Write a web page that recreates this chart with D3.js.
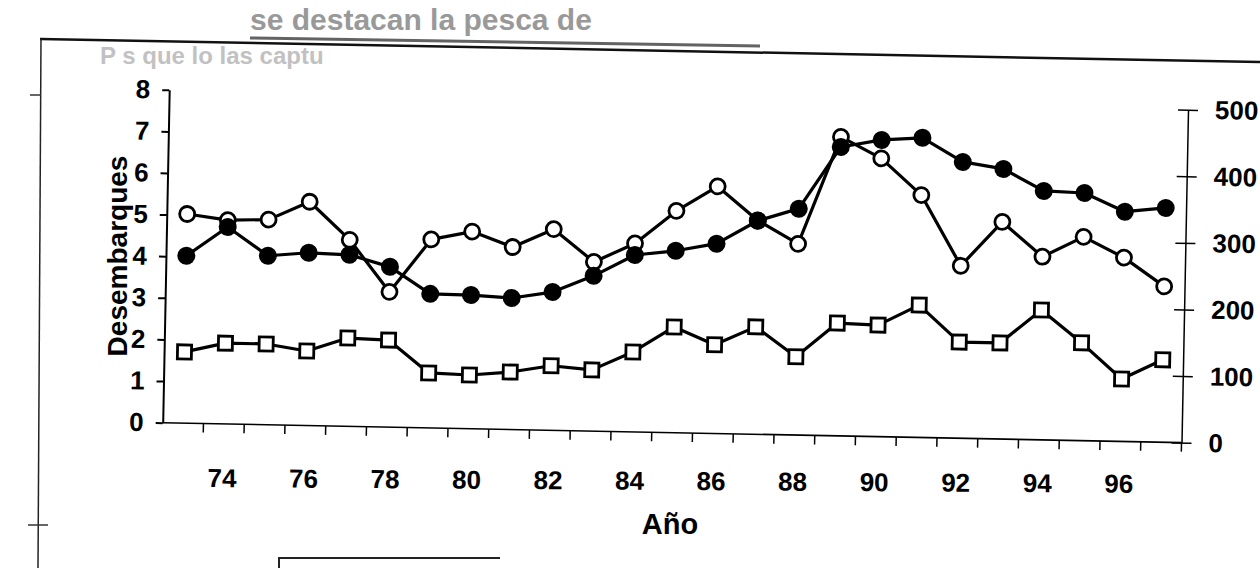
<!DOCTYPE html>
<html><head><meta charset="utf-8">
<script src="https://cdn.jsdelivr.net/npm/d3@7"></script>
<style>
body{margin:0;background:#fff}
svg{display:block}
text{font-family:"Liberation Sans",Arial,sans-serif;font-weight:bold;fill:#000}
</style>
</head><body><svg id="c" width="1260" height="568"></svg>
<script>
// ---- data ----
const years = [73,74,75,76,77,78,79,80,81,82,83,84,85,86,87,88,89,90,91,92,93,94,95,96,97];
const yearLabels = [74,76,78,80,82,84,86,88,90,92,94,96];
const leftTicks = [0,1,2,3,4,5,6,7,8];
const rightTicks = [0,100,200,300,400,500];
// filled circles (left axis)
const filledSeries = [4.02,4.73,4.06,4.15,4.12,3.85,3.22,3.21,3.16,3.32,3.73,4.25,4.37,4.56,5.13,5.44,6.94,7.13,7.20,6.64,6.49,5.98,5.95,5.52,5.63];
// squares (left axis)
const squareSeries = [1.71,1.94,1.94,1.79,2.12,2.09,1.32,1.29,1.38,1.55,1.47,1.92,2.54,2.13,2.58,1.88,2.71,2.68,3.18,2.31,2.31,3.12,2.35,1.50,1.98];
// open circles (right axis)
const openSeries = [314,306,308,336,280,203,283,296,274,302,254,283,333,371,321,287,449,418,364,259,326,275,306,276,234];
const yTitle = "Desembarques";
const xTitle = "Año";

// ---- layout ----
const svg = d3.select("#c");
const ox = 162.7, oy = 422.7, W = 1019, H = 333, tilt = 1.12;

// scan artefacts of the page
const page = svg.append("g");
page.append("text").attr("x",250).attr("y",30).attr("font-size",30).style("fill","#777").attr("opacity",0.75).text("se destacan la pesca de");
page.append("text").attr("x",100).attr("y",64).attr("font-size",24).style("fill","#999").attr("opacity",0.6).text("P      s que lo      las captu");
page.append("line").attr("x1",40).attr("y1",39).attr("x2",1260).attr("y2",62).attr("stroke","#111").attr("stroke-width",2.5);
page.append("line").attr("x1",250).attr("y1",38).attr("x2",760).attr("y2",46).attr("stroke","#222").attr("stroke-width",3).attr("opacity",0.7);
page.append("line").attr("x1",41).attr("y1",39).attr("x2",38).attr("y2",568).attr("stroke","#222").attr("stroke-width",1.5);
page.append("line").attr("x1",30).attr("y1",95).attr("x2",41).attr("y2",95).attr("stroke","#333").attr("stroke-width",1.5);
page.append("line").attr("x1",28).attr("y1",525).attr("x2",48).attr("y2",525).attr("stroke","#333").attr("stroke-width",1.5);
page.append("path").attr("d","M279,568V558H500").attr("fill","none").attr("stroke","#222").attr("stroke-width",2);

const g = svg.append("g").attr("transform",`translate(${ox},${oy}) rotate(${tilt}) translate(0,${-H})`);

const x = d3.scaleBand().domain(years).range([0,W]);
const cx = d => x(d) + x.bandwidth()/2;
const yL = d3.scaleLinear().domain([0,8]).range([H,0]);
const yR = d3.scaleLinear().domain([0,500]).range([H,0]);

// left axis
const la = g.append("g").call(d3.axisLeft(yL).tickValues(leftTicks).tickSize(7).tickSizeOuter(0).tickPadding(12).tickFormat(d3.format("d")));
la.select(".domain").attr("stroke-width",2);
la.selectAll(".tick line").attr("stroke-width",2);
la.selectAll("text").attr("font-size",26).attr("font-family","Liberation Sans, Arial, sans-serif").attr("font-weight","bold");

// right axis
const ra = g.append("g").attr("transform",`translate(${W},0)`)
  .call(d3.axisRight(yR).tickValues(rightTicks).tickSizeInner(10).tickSizeOuter(0).tickPadding(17));
ra.select(".domain").attr("stroke-width",1.5);
ra.selectAll(".tick line").attr("x1",-10).attr("stroke-width",1.5);
ra.selectAll("text").attr("font-size",26).attr("font-family","Liberation Sans, Arial, sans-serif").attr("font-weight","bold");

// x baseline and boundary ticks
g.append("line").attr("x1",0).attr("x2",W).attr("y1",H).attr("y2",H).attr("stroke","#000").attr("stroke-width",1.6);
const bounds = years.slice(1).map(d => x(d)).concat([W]);
g.append("g").selectAll("line").data(bounds).join("line")
  .attr("x1",d=>d).attr("x2",d=>d).attr("y1",H).attr("y2",H+9).attr("stroke","#000").attr("stroke-width",1.5);

// x tick labels (slightly less tilted in the scan)
const xl = svg.append("g").attr("transform",`translate(${ox},${oy}) rotate(0.35)`)
  .call(d3.axisBottom(x).tickValues(yearLabels).tickSize(0).tickPadding(0).tickFormat(d=>String(d)));
xl.select(".domain").remove();
xl.selectAll("text").attr("x",-1.5).attr("y",55).attr("dy","0.35em").attr("font-size",26).attr("font-family","Liberation Sans, Arial, sans-serif").attr("font-weight","bold");

// titles
svg.append("text").attr("transform","translate(127,256) rotate(-90)").attr("text-anchor","middle").attr("font-size",28).text(yTitle);
svg.append("text").attr("x",670).attr("y",534).attr("text-anchor","middle").attr("font-size",29).text(xTitle);

// series
function drawLine(vals, yScale){
  const line = d3.line().x((d,i)=>cx(years[i])).y(d=>yScale(d));
  g.append("path").datum(vals).attr("d",line).attr("fill","none").attr("stroke","#000").attr("stroke-width",3.2).attr("stroke-linejoin","round");
}
// squares
drawLine(squareSeries, yL);
g.append("g").selectAll("rect").data(squareSeries).join("rect")
  .attr("x",(d,i)=>cx(years[i])-7).attr("y",d=>yL(d)-7).attr("width",14).attr("height",14)
  .attr("fill","#fff").attr("stroke","#000").attr("stroke-width",2.8);
// open circles
drawLine(openSeries, yR);
g.append("g").selectAll("circle").data(openSeries).join("circle")
  .attr("cx",(d,i)=>cx(years[i])).attr("cy",d=>yR(d)).attr("r",7.5)
  .attr("fill","#fff").attr("stroke","#000").attr("stroke-width",2.8);
// filled circles
drawLine(filledSeries, yL);
g.append("g").selectAll("circle").data(filledSeries).join("circle")
  .attr("cx",(d,i)=>cx(years[i])).attr("cy",d=>yL(d)).attr("r",9)
  .attr("fill","#000");
</script></body></html>
